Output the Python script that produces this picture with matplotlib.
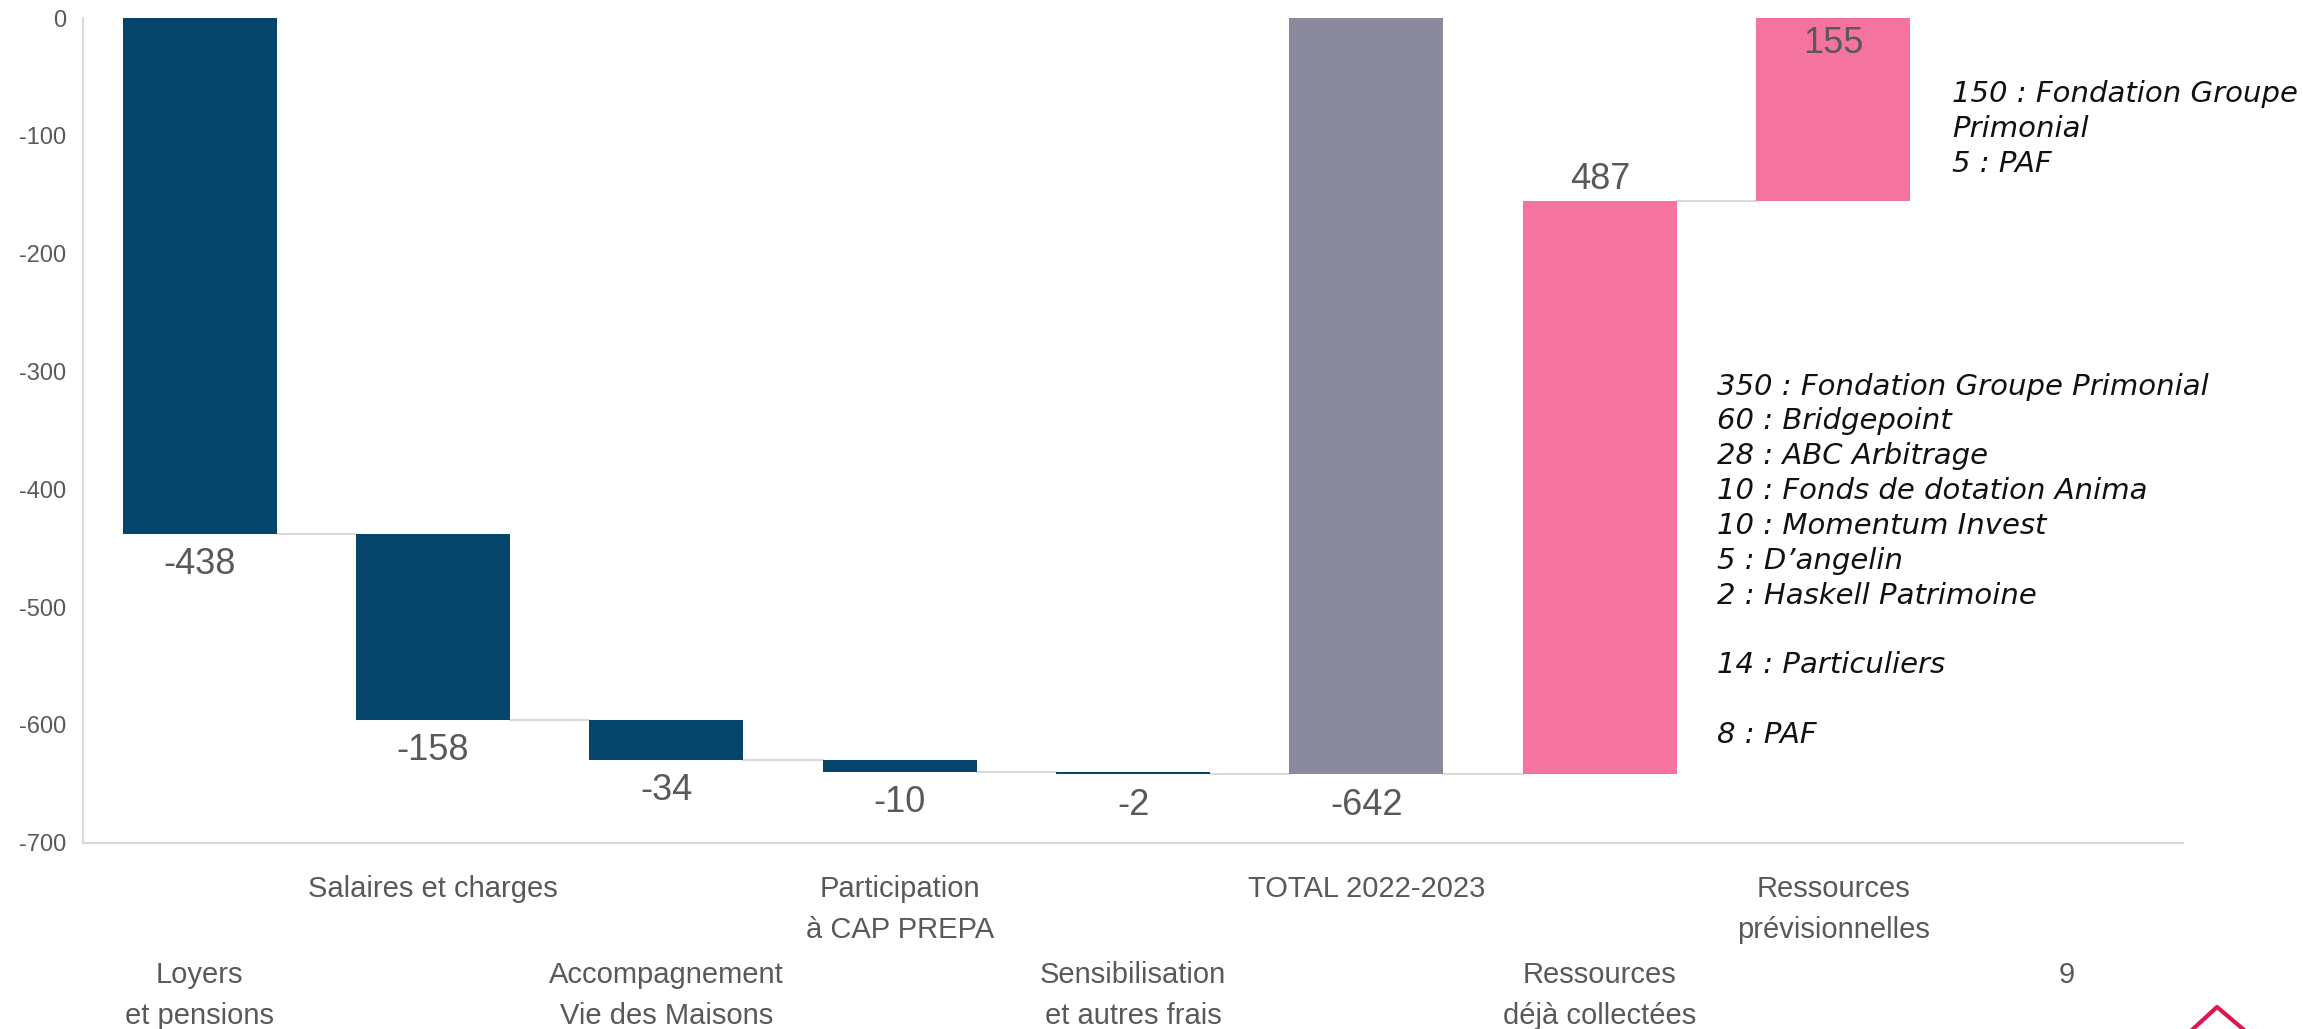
import matplotlib
matplotlib.use('Agg')
import matplotlib.pyplot as plt
import matplotlib.transforms as mtransforms
from matplotlib.lines import Line2D
import numpy as np

# Data
categories = ['Loyers\net pensions', 'Salaires et charges', 'Accompagnement\nVie des Maisons',
              'Participation\nà CAP PREPA', 'Sensibilisation\net autres frais', 'TOTAL 2022-2023',
              'Ressources\ndéjà collectées', 'Ressources\nprévisionnelles', '9']
changes = [-438, -158, -34, -10, -2, None, 487, 155]
kinds = ['cost', 'cost', 'cost', 'cost', 'cost', 'total', 'res', 'res']
yticks = [0, -100, -200, -300, -400, -500, -600, -700]

note_prev = '150 : Fondation Groupe\nPrimonial\n5 : PAF'
note_coll = ('350 : Fondation Groupe Primonial\n60 : Bridgepoint\n28 : ABC Arbitrage\n'
             '10 : Fonds de dotation Anima\n10 : Momentum Invest\n5 : D’angelin\n'
             '2 : Haskell Patrimoine\n\n14 : Particuliers\n\n8 : PAF')

colors = {'cost': '#05446B', 'total': '#8B8A9D', 'res': '#F5739F'}
grey_txt = '#595959'
label_font = ['Liberation Sans Narrow', 'Liberation Sans', 'DejaVu Sans']

fig = plt.figure(figsize=(23.03, 10.29), dpi=100)
ax = fig.add_axes([0.036, 0.181, 0.912, 0.8015])

# compute waterfall
bottoms, tops, values = [], [], []
running = 0
for ch, k in zip(changes, kinds):
    if k == 'total':
        lo, hi = running, 0
        val = running
    else:
        start = running
        running = running + ch
        lo, hi = min(start, running), max(start, running)
        val = ch
    bottoms.append(lo)
    tops.append(hi)
    values.append(val)

w = 0.66
for i, k in enumerate(kinds):
    ax.bar(i, tops[i] - bottoms[i], bottom=bottoms[i], width=w, color=colors[k], zorder=3)

# connectors
levels = []
r = 0
for ch, k in zip(changes, kinds):
    if k != 'total':
        r += ch
    levels.append(r)
for i in range(len(kinds) - 1):
    ax.plot([i + w / 2, i + 1 - w / 2], [levels[i], levels[i]], color='#D9D9D9', lw=1.5, zorder=2)

# value labels
for i, v in enumerate(values):
    if v < 0:
        y = bottoms[i] - 26
    else:
        y = min(tops[i] + 18, -22)
    ax.text(i, y, f'{v}', ha='center', va='center', fontsize=26, color=grey_txt,
            family=label_font, zorder=4)

ax.set_xlim(-0.5, 8.5)
ax.set_ylim(-700, 0)
ax.set_yticks(yticks)
ax.set_yticklabels([str(t) for t in yticks], fontsize=17, color=grey_txt, family=label_font)
ax.tick_params(axis='y', length=0, pad=12)
ax.set_xticks([])
for s in ['top', 'right']:
    ax.spines[s].set_visible(False)
for s in ['left', 'bottom']:
    ax.spines[s].set_color('#D9D9D9')
    ax.spines[s].set_linewidth(1.5)

# staggered category labels
trans = mtransforms.blended_transform_factory(ax.transData, fig.transFigure)
for i, lab in enumerate(categories):
    ytop = 1 - 875 / 1029 if i % 2 == 1 else 1 - 961 / 1029
    ax.text(i, ytop, lab, transform=trans, ha='center', va='top', fontsize=21,
            color=grey_txt, family=label_font, linespacing=1.57)

# notes
ax.text(7.51, -53, note_prev, ha='left', va='top', fontsize=21, style='italic',
        family=['DejaVu Sans'], color='#111111', linespacing=1.31)
ax.text(6.5, -301, note_coll, ha='left', va='top', fontsize=21, style='italic',
        family=['DejaVu Sans'], color='#111111', linespacing=1.31)

# logo fragment bottom right
fig.add_artist(Line2D([2193 / 2303, 2217 / 2303, 2243 / 2303],
                      [1 - 1029 / 1029, 1 - 1007 / 1029, 1 - 1029 / 1029],
                      color='#E0144F', lw=3))

fig.savefig('out.png', dpi=100)
